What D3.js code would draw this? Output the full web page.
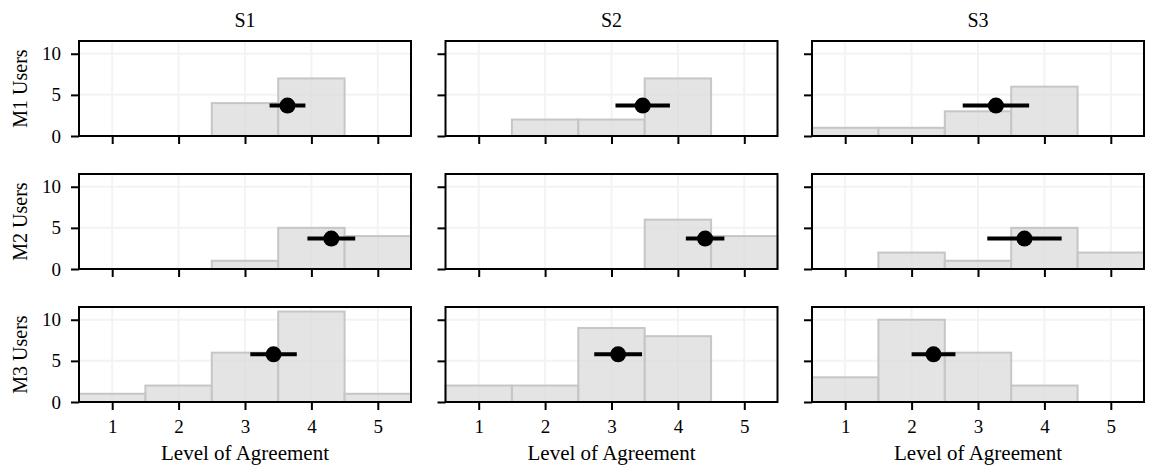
<!DOCTYPE html>
<html><head><meta charset="utf-8">
<script src="https://cdn.jsdelivr.net/npm/d3@7"></script>
<style>
body{margin:0;background:#fff;}
text{font-family:"Liberation Serif","Times New Roman","DejaVu Serif",serif;fill:#000;}
</style></head>
<body><svg id="c" width="1153" height="468"></svg>
<script>
const statements = ["S1","S2","S3"];
const groups = ["M1 Users","M2 Users","M3 Users"];
const levels = [1,2,3,4,5];
const xTicks = [1,2,3,4,5];
const yTicks = [0,5,10];
// counts per level, rows = groups, cols = statements
const counts = [
  [[0,0,4,7,0],[0,2,2,7,0],[1,1,3,6,0]],
  [[0,0,1,5,4],[0,0,0,6,4],[0,2,1,5,2]],
  [[1,2,6,11,1],[2,2,9,8,0],[3,10,6,2,0]]
];
const means = [
  [3.64,3.47,3.27],
  [4.30,4.41,3.70],
  [3.43,3.10,2.33]
];
const errHalf = [
  [0.27,0.41,0.50],
  [0.36,0.29,0.56],
  [0.35,0.36,0.33]
];
const pointY = [3.7,3.7,5.8];

const svg = d3.select("#c");
const colLeft = [79,445.5,812], pw = 332;
const rowTop = [41,174,307], ph = 95;
const FONT = '"Liberation Serif","Times New Roman","DejaVu Serif",serif';

const x = d3.scaleLinear().domain([0.5,5.5]).range([0,pw]);
const y = d3.scaleLinear().domain([0,11.55]).range([ph,0]);

groups.forEach((g,ri)=>{
  statements.forEach((s,ci)=>{
    const p = svg.append("g").attr("transform",`translate(${colLeft[ci]},${rowTop[ri]})`);
    // grid
    p.selectAll(".gx").data(xTicks).join("line")
      .attr("x1",d=>x(d)).attr("x2",d=>x(d)).attr("y1",0).attr("y2",ph)
      .attr("stroke","#f3f3f3").attr("stroke-width",2);
    p.selectAll(".gy").data(yTicks).join("line")
      .attr("x1",0).attr("x2",pw).attr("y1",d=>y(d)).attr("y2",d=>y(d))
      .attr("stroke","#f3f3f3").attr("stroke-width",2);
    // bars
    const data = levels.map((l,i)=>({l, c:counts[ri][ci][i]})).filter(d=>d.c>0);
    p.selectAll(".bar").data(data).join("rect")
      .attr("x",d=>x(d.l-0.5)).attr("width",d=>x(d.l+0.5)-x(d.l-0.5))
      .attr("y",d=>y(d.c)).attr("height",d=>y(0)-y(d.c))
      .attr("fill","#d9d9d9").attr("fill-opacity",0.72)
      .attr("stroke","#c6c6c6").attr("stroke-width",2);
    // error bar + point
    const m = means[ri][ci], e = errHalf[ri][ci], py = pointY[ri];
    p.append("line").attr("x1",x(m-e)).attr("x2",x(m+e)).attr("y1",y(py)).attr("y2",y(py))
      .attr("stroke","#000").attr("stroke-width",4);
    p.append("circle").attr("cx",x(m)).attr("cy",y(py)).attr("r",8).attr("fill","#000");
    // axes
    const xa = d3.axisBottom(x).tickValues(xTicks).tickSizeOuter(0).tickSizeInner(8).tickPadding(10)
      .tickFormat(ri<2 ? "" : d3.format("d"));
    const ya = d3.axisLeft(y).tickValues(yTicks).tickSizeOuter(0).tickSizeInner(8).tickPadding(10)
      .tickFormat(ci>0 ? "" : d3.format("d"));
    const gx = p.append("g").attr("transform",`translate(0,${ph})`).call(xa);
    const gy = p.append("g").call(ya);
    [gx,gy].forEach(a=>{
      a.attr("font-family",FONT).attr("font-size",19);
      a.select(".domain").remove();
      a.selectAll("line").attr("stroke","#000").attr("stroke-width",2);
      a.selectAll("text").style("font-family",FONT).style("font-size","19px").attr("fill","#000");
    });
    // frame
    p.append("rect").attr("x",0).attr("y",0).attr("width",pw).attr("height",ph)
      .attr("fill","none").attr("stroke","#000").attr("stroke-width",2);
    if (ri===0) p.append("text").attr("x",pw/2).attr("y",-14).attr("text-anchor","middle")
      .style("font-size","20px").text(s);
    if (ri===2) p.append("text").attr("x",pw/2).attr("y",ph+58).attr("text-anchor","middle")
      .style("font-size","21px").text("Level of Agreement");
    if (ci===0) p.append("text").attr("transform",`translate(-59,${ph/2}) rotate(-90)`)
      .attr("text-anchor","middle").attr("dy","0.35em").style("font-size","20px").text(g);
  });
});
</script></body></html>
